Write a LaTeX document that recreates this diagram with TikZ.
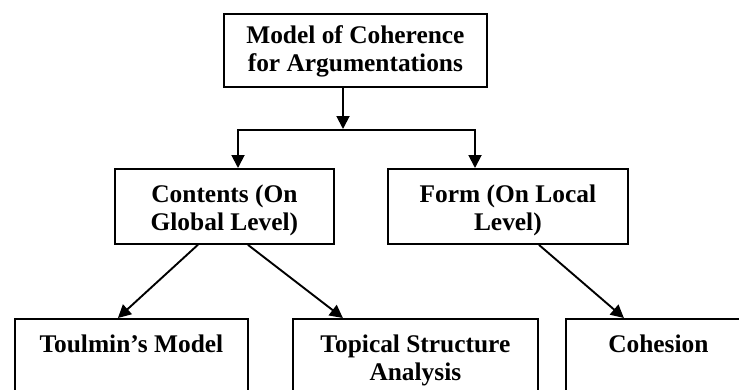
\documentclass[tikz,border=0pt]{standalone}
\usepackage{fontspec}
\setmainfont{Liberation Serif}
\usetikzlibrary{arrows.meta}

% box text: width, height, first-baseline drop, text
\newcommand\bxt[4]{\begin{minipage}[t][#2][t]{#1}\centering\bfseries\fontsize{25.4}{28}\selectfont\rule{0pt}{#3}#4\end{minipage}}

\begin{document}
\begin{tikzpicture}[x=1pt,y=-1pt,
  box/.style={draw, rectangle, line width=1.8pt, inner sep=0pt, anchor=north west},
  link/.style={line width=1.9pt, -{Triangle[length=13pt,width=13pt]}},
  bar/.style={line width=1.9pt}]
  \path[use as bounding box, clip] (0,0) rectangle (739,389);

  % boxes
  \node[box] (top)  at (223,13)  {\bxt{263pt}{73pt}{30pt}{Model of Coherence\\for Argumentations}};
  \node[box] (cont) at (114,168) {\bxt{219pt}{75pt}{34pt}{Contents (On\\Global Level)}};
  \node[box] (form) at (387,168) {\bxt{240pt}{75pt}{34pt}{Form (On Local\\Level)}};
  \node[box] (toul) at (14,318)  {\bxt{233pt}{100pt}{34pt}{Toulmin’s Model}};
  \node[box] (topi) at (292,318) {\bxt{245pt}{100pt}{34pt}{Topical Structure\\Analysis}};
  \node[box] (cohe) at (565,318) {\bxt{185pt}{100pt}{34pt}{Cohesion}};

  % branching from the top box
  \coordinate (j)  at (343,130);
  \coordinate (cl) at (238,130);
  \coordinate (cr) at (475,130);
  \draw[link] (top.south -| j) -- ([yshift=1pt]j);
  \draw[bar] ([xshift=-0.95pt]cl) -- ([xshift=0.95pt]cr);
  \draw[link] (cl) -- (cl |- cont.north);
  \draw[link] (cr) -- (cr |- form.north);

  % diagonal links
  \draw[link] ([xshift=-26.5pt]cont.south) -- ([xshift=-13.5pt]toul.north);
  \draw[link] ([xshift=23.5pt]cont.south) -- ([xshift=-72.5pt]topi.north);
  \draw[link] ([xshift=31pt]form.south) -- ([xshift=-34.5pt]cohe.north);
\end{tikzpicture}
\end{document}
